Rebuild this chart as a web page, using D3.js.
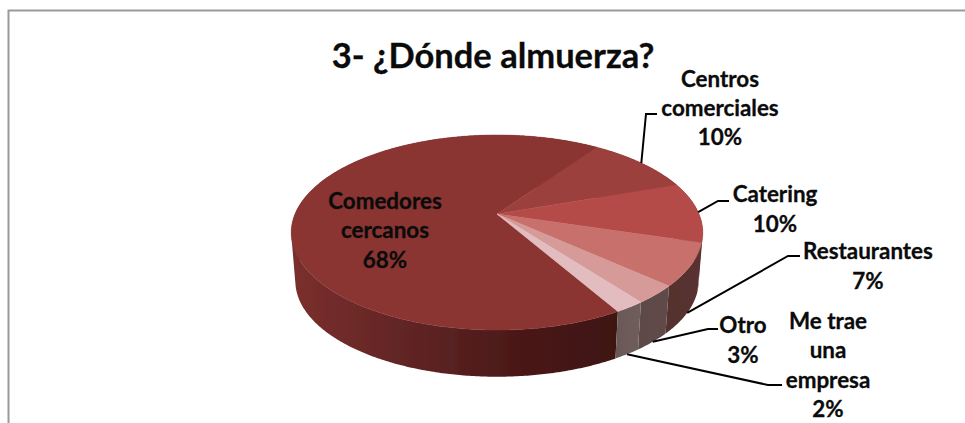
<!DOCTYPE html>
<html>
<head>
<meta charset="utf-8">
<script src="https://cdn.jsdelivr.net/npm/d3@7"></script>
<style>
  html, body { margin: 0; padding: 0; background: #fff; }
  svg { display: block; }
  text { font-family: Lato, "Open Sans", sans-serif; font-weight: 700; fill: #0b0b0b; stroke: #0b0b0b; stroke-width: 0.3; text-anchor: middle; }
</style>
</head>
<body>
<main></main>
<script>
const title = "3- ¿Dónde almuerza?";
const categories = ["Comedores cercanos", "Centros comerciales", "Catering", "Restaurantes", "Otro", "Me trae una empresa"];
const values = [68, 10, 10, 7, 3, 2];
const labelLines = [
  ["Comedores", "cercanos", "68%"],
  ["Centros", "comerciales", "10%"],
  ["Catering", "10%"],
  ["Restaurantes", "7%"],
  ["Otro", "3%"],
  ["Me trae", "una", "empresa", "2%"]
];

// styles and layout, kept apart from the values
const topColors = ["#8a3533", "#9c413e", "#b54b48", "#c76f6c", "#d69a99", "#e2bcbe"];
const wallColors = [
  ["#3e1211", "#481615", "#572020", "#692827", "#7b2f2d"],
  ["#5a2826", "#5a2826"],
  ["#5f2c2a", "#5a2b29"],
  ["#5a3331", "#54302e"],
  ["#5f4a49", "#5d4847"],
  ["#6f5d5b", "#6b5957"]
];
const labelBoxes = [
  { x: 385, y: 208.5, step: 29.5 },
  { x: 720, y: 86.5, step: 29 },
  { x: 775, y: 201.5, step: 30 },
  { x: 868, y: 258.5, step: 30 },
  { x: 743, y: 332.5, step: 30 },
  { x: 828, y: 328.5, step: 29.5 }
];
// leader: rim depth it starts from (0 top, 1 bottom), then elbow and end on the label side
const leaders = [
  null,
  { depth: 0, elbow: [646, 114], end: [657, 114] },
  { depth: 0, elbow: [718, 201], end: [729, 201] },
  { depth: 1, elbow: [788, 256], end: [800, 256] },
  { depth: 1, elbow: [708, 329], end: [718, 329] },
  { depth: 1, elbow: [768, 385], end: [782, 385] }
];

const width = 965, height = 423;

// Perspective of the tilted disc, solved from the rim and the apex in the picture
const apex = [497, 214];
const radiusX = 202, radiusY = 94, tilt = 0.19;
const drop = 49, shrink = 0.98;

const project = (angle, t = 0, r = 1) => {
  const u = Math.sin(angle) * r;
  const v = -Math.cos(angle) * r;
  const w = 1 - tilt * v;
  const s = 1 - (1 - shrink) * t;
  return [apex[0] + s * radiusX * u / w, apex[1] + drop * t + s * radiusY * v / w];
};

const svg = d3.select("main")
              .append("svg")
              .attr("width", width)
              .attr("height", height);

const defs = svg.append("defs");
defs.append("filter").attr("id", "soft")
    .append("feGaussianBlur").attr("stdDeviation", 0.5);

// frame only shows on the top and left
svg.append("path")
   .attr("d", `M${width},10.5H8.5V${height}`)
   .attr("fill", "none")
   .attr("stroke", "#9a9a9a")
   .attr("stroke-width", 2);

svg.append("text")
   .attr("x", 493)
   .attr("y", 67.5)
   .attr("font-size", 34.5)
   .text(title);

const arcs = d3.pie()
               .sort(null)
               .startAngle(150 * Math.PI / 180)
               .endAngle(510 * Math.PI / 180)(values);

const line = d3.line();
const arcAngles = (a) => {
  const n = Math.max(2, Math.ceil((a.endAngle - a.startAngle) / 0.01));
  return d3.range(n + 1).map(i => a.startAngle + (a.endAngle - a.startAngle) * i / n);
};

const pieGroup = svg.append("g").attr("filter", "url(#soft)");

// walls: one quad per step, all wound the same way so the sweep fills past the rim
arcs.forEach((a, i) => {
  const angles = arcAngles(a);
  const top = angles.map(t => project(t, 0));
  const bottom = angles.map(t => project(t, 1));
  const quads = d3.pairs(d3.range(angles.length)).map(([p, q]) => {
    const quad = [top[p], top[q], bottom[q], bottom[p]];
    return line(d3.polygonArea(quad) < 0 ? quad.reverse() : quad) + "Z";
  });
  // Comedores runs from the front edge round to the left, the others fade a little to the right
  const stops = wallColors[i];
  const xs = i === 0 ? [617, 290] : d3.extent(top, p => p[0]).reverse();
  const grad = defs.append("linearGradient")
                   .attr("id", "wall" + i)
                   .attr("gradientUnits", "userSpaceOnUse")
                   .attr("x1", xs[0]).attr("x2", xs[1])
                   .attr("y1", 0).attr("y2", 0);
  stops.forEach((c, k) => {
    grad.append("stop").attr("offset", k / (stops.length - 1)).attr("stop-color", c);
  });
  pieGroup.append("path")
          .attr("d", quads.join(""))
          .attr("fill", `url(#wall${i})`);
});

// top face
pieGroup.selectAll("path.slice")
        .data(arcs)
        .enter().append("path")
        .attr("class", "slice")
        .attr("d", d => line([apex].concat(arcAngles(d).map(t => project(t, 0)))) + "Z")
        .attr("fill", (d, i) => topColors[i])
        .attr("stroke", (d, i) => topColors[i])
        .attr("stroke-width", 0.5);

// leader lines
svg.append("g").selectAll("path")
   .data(arcs.map((a, i) => ({ a, l: leaders[i] })).filter(d => d.l))
   .enter().append("path")
   .attr("d", d => line([project((d.a.startAngle + d.a.endAngle) / 2, d.l.depth), d.l.elbow, d.l.end]))
   .attr("fill", "none")
   .attr("stroke", "#000")
   .attr("stroke-width", 2);

// labels
labelLines.forEach((lines, i) => {
  const box = labelBoxes[i];
  svg.append("g").selectAll("text")
     .data(lines)
     .enter().append("text")
     .attr("x", box.x)
     .attr("y", (d, k) => box.y + k * box.step)
     .attr("font-size", 22.4)
     .text(d => d);
});
</script>
</body>
</html>
